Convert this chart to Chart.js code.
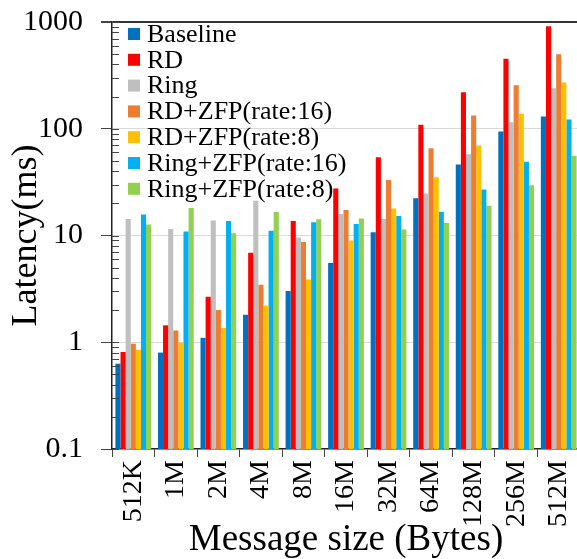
<!DOCTYPE html>
<html>
<head>
<meta charset="utf-8">
<script src="https://cdn.jsdelivr.net/npm/chart.js@4/dist/chart.umd.min.js"></script>
<style>
  html, body { margin: 0; padding: 0; background: #fff; overflow: hidden; }
  #wrap { width: 580px; height: 559px; }
</style>
</head>
<body>
<div id="wrap"><canvas id="latencyChart" width="580" height="559"></canvas></div>
<script>
const sizes = ['512K', '1M', '2M', '4M', '8M', '16M', '32M', '64M', '128M', '256M', '512M'];

// latency in ms per message size
const baseline  = [0.63, 0.80, 1.10, 1.81, 3.02, 5.53, 10.7, 22.3, 46.2, 94.4, 130];
const rd        = [0.81, 1.44, 2.67, 6.9, 13.7, 27.5, 54.2, 109, 220, 452, 910];
const ring      = [14.3, 11.5, 13.8, 21.2, 9.6, 15.9, 14.3, 24.7, 57.8, 115, 239];
const rdZfp16   = [0.97, 1.29, 2.0, 3.46, 8.7, 17.3, 33.1, 65.8, 133, 256, 500];
const rdZfp8    = [0.85, 0.99, 1.36, 2.21, 3.88, 8.97, 17.9, 35.1, 69.7, 138, 271];
const ringZfp16 = [15.7, 10.9, 13.7, 11.1, 13.3, 12.8, 15.2, 16.7, 26.9, 49, 122];
const ringZfp8  = [12.7, 18.1, 10.5, 16.6, 14.2, 14.4, 11.4, 13.1, 19.0, 29.5, 56];

const decades = [0.1, 1, 10, 100, 1000];

const SERIF = "'Liberation Serif', 'Times New Roman', serif";

const isDecade = v => decades.some(d => Math.abs(d - v) < 1e-9);

// small ticks pointing into the plot, drawn over the bars
const innerTicks = {
  id: 'innerTicks',
  afterDatasetsDraw(chart) {
    const { ctx, chartArea } = chart;
    const y = chart.scales.y;
    ctx.save();
    ctx.strokeStyle = '#444';
    ctx.lineWidth = 1;
    y.ticks.forEach(t => {
      const py = Math.round(y.getPixelForValue(t.value)) + 0.5;
      ctx.beginPath();
      ctx.moveTo(chartArea.left, py);
      ctx.lineTo(chartArea.left + 7, py);
      ctx.stroke();
    });
    ctx.restore();
  }
};

// legend stacked in the top left corner of the plot
const cornerLegend = {
  id: 'cornerLegend',
  afterDraw(chart) {
    const { ctx, chartArea } = chart;
    ctx.save();
    ctx.font = '26px ' + SERIF;
    ctx.textBaseline = 'middle';
    chart.data.datasets.forEach((ds, i) => {
      const cy = chartArea.top + 12 + i * 25.8;
      ctx.fillStyle = ds.backgroundColor;
      ctx.fillRect(chartArea.left + 16, cy - 6, 12, 12);
      ctx.fillStyle = '#000';
      ctx.fillText(ds.label, chartArea.left + 35, cy + 1);
    });
    ctx.restore();
  }
};

new Chart(document.getElementById('latencyChart'), {
  type: 'bar',
  data: {
    labels: sizes,
    datasets: [
      { label: 'Baseline', data: baseline, backgroundColor: '#0070C0' },
      { label: 'RD', data: rd, backgroundColor: '#FF0000' },
      { label: 'Ring', data: ring, backgroundColor: '#BFBFBF' },
      { label: 'RD+ZFP(rate:16)', data: rdZfp16, backgroundColor: '#ED7D31' },
      { label: 'RD+ZFP(rate:8)', data: rdZfp8, backgroundColor: '#FFC000' },
      { label: 'Ring+ZFP(rate:16)', data: ringZfp16, backgroundColor: '#00B0F0' },
      { label: 'Ring+ZFP(rate:8)', data: ringZfp8, backgroundColor: '#92D050' }
    ]
  },
  options: {
    responsive: false,
    animation: false,
    devicePixelRatio: 1,
    categoryPercentage: 0.84,
    barPercentage: 1.0,
    layout: { padding: { top: 22, right: 0, bottom: 0, left: 0 } },
    plugins: {
      legend: { display: false },
      tooltip: { enabled: false }
    },
    scales: {
      x: {
        grid: {
          offset: true,
          drawOnChartArea: false,
          tickLength: 8,
          tickColor: '#444'
        },
        border: { color: '#222', width: 1.5 },
        ticks: {
          color: '#000',
          minRotation: 90,
          maxRotation: 90,
          padding: 3,
          autoSkip: false,
          font: { family: SERIF, size: 28 }
        },
        title: {
          display: true,
          text: 'Message size (Bytes)',
          color: '#000',
          padding: 0,
          font: { family: SERIF, size: 37, lineHeight: 1 }
        },
        afterFit(scale) {
          scale.height = 110;
          scale.paddingLeft = 0;
          scale.paddingRight = 0;
        }
      },
      y: {
        type: 'logarithmic',
        min: 0.1,
        max: 1000,
        afterBuildTicks(scale) {
          const vals = [];
          decades.forEach(d => {
            for (let m = 1; m <= 9; m++) {
              const v = d * m;
              if (v <= 1000 + 1e-9) vals.push(m === 1 ? d : v);
            }
          });
          scale.ticks = vals.map(v => ({ value: v }));
        },
        grid: {
          tickLength: 11,
          color: ctx => {
            const v = ctx.tick ? ctx.tick.value : 0;
            if (Math.abs(v - 1000) < 1e-6) return '#333';
            if (Math.abs(v - 0.1) < 1e-9) return 'rgba(0,0,0,0)';
            return isDecade(v) ? '#D9D9D9' : 'rgba(0,0,0,0)';
          },
          lineWidth: ctx => (ctx.tick && Math.abs(ctx.tick.value - 1000) < 1e-6 ? 2 : 1),
          tickColor: ctx => (ctx.tick && isDecade(ctx.tick.value) ? '#444' : 'rgba(0,0,0,0)')
        },
        border: { color: '#222', width: 1.5 },
        ticks: {
          color: '#000',
          padding: 18,
          autoSkip: false,
          font: { family: SERIF, size: 30 },
          callback: v => (isDecade(v) ? String(v) : '')
        },
        title: {
          display: true,
          text: 'Latency(ms)',
          color: '#000',
          padding: { top: 9, bottom: 0 },
          font: { family: SERIF, size: 36, lineHeight: 1 }
        },
        afterFit(scale) {
          scale.width = 112;
          scale.paddingTop = 0;
          scale.paddingBottom = 0;
        }
      }
    }
  },
  plugins: [innerTicks, cornerLegend]
});
</script>
</body>
</html>
